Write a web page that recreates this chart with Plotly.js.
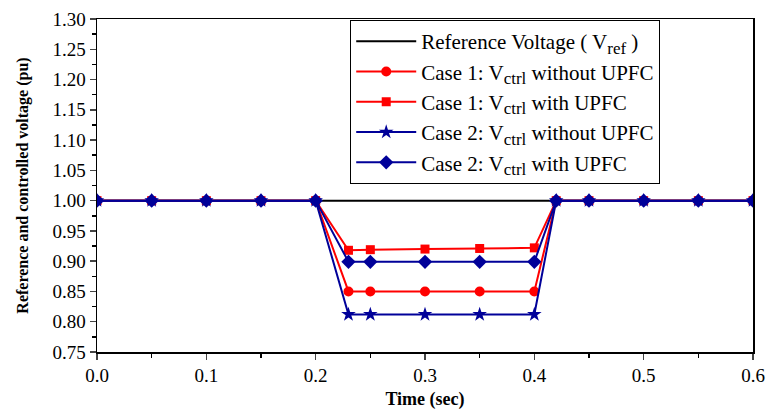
<!DOCTYPE html>
<html><head><meta charset="utf-8">
<script src="https://cdn.plot.ly/plotly-3.0.1.min.js"></script>
<style>body{margin:0;background:#fff}#c{width:766px;height:410px}</style>
</head><body><div id="c"></div>
<script>
var timeRef = [0, 0.6];
var vRef = [1.0, 1.0];
var timePts = [0, 0.05, 0.1, 0.15, 0.2, 0.23, 0.25, 0.3, 0.35, 0.4, 0.42, 0.45, 0.5, 0.55, 0.6];
var case1Without = [1.0, 1.0, 1.0, 1.0, 1.0, 0.85, 0.85, 0.85, 0.85, 0.85, 1.0, 1.0, 1.0, 1.0, 1.0];
var case1With = [1.0, 1.0, 1.0, 1.0, 1.0, 0.918, 0.919, 0.920, 0.921, 0.922, 1.0, 1.0, 1.0, 1.0, 1.0];
var case2Without = [1.0, 1.0, 1.0, 1.0, 1.0, 0.812, 0.812, 0.812, 0.812, 0.812, 1.0, 1.0, 1.0, 1.0, 1.0];
var case2With = [1.0, 1.0, 1.0, 1.0, 1.0, 0.899, 0.899, 0.899, 0.899, 0.899, 1.0, 1.0, 1.0, 1.0, 1.0];
function sub(s) { return '<span style="font-size:17px">' + s + '</span>'; }
var names = ['Reference Voltage ( V<sub>' + sub('ref') + '</sub> )',
  'Case 1: V<sub>' + sub('ctrl') + '</sub> without UPFC',
  'Case 1: V<sub>' + sub('ctrl') + '</sub> with UPFC',
  'Case 2: V<sub>' + sub('ctrl') + '</sub> without UPFC',
  'Case 2: V<sub>' + sub('ctrl') + '</sub> with UPFC'];
var red = '#ff0000', blue = '#000099';
var traces = [
  {x: timeRef, y: vRef, name: names[0], mode: 'lines', line: {color: '#000', width: 2}},
  {x: timePts, y: case1Without, name: names[1], mode: 'lines+markers', line: {color: red, width: 2}, marker: {symbol: 'circle', size: 10, color: red}},
  {x: timePts, y: case1With, name: names[2], mode: 'lines+markers', line: {color: red, width: 2}, marker: {symbol: 'square', size: 9, color: red}},
  {x: timePts, y: case2Without, name: names[3], mode: 'lines+markers', line: {color: blue, width: 2}, marker: {symbol: 'star', size: 11, color: blue}},
  {x: timePts, y: case2With, name: names[4], mode: 'lines+markers', line: {color: blue, width: 2}, marker: {symbol: 'diamond', size: 11, color: blue}}
];
var serif = 'Liberation Serif';
var layout = {
  width: 766, height: 410,
  margin: {l: 97, r: 13, t: 19, b: 58},
  paper_bgcolor: '#fff', plot_bgcolor: '#fff',
  font: {family: serif, size: 19, color: '#000'},
  showlegend: true,
  legend: {x: 0.386, y: 0.997, xanchor: 'left', yanchor: 'top', bordercolor: '#000', borderwidth: 1,
    bgcolor: '#fff', font: {family: serif, size: 21}, tracegroupgap: 0, itemwidth: 60},
  xaxis: {range: [0, 0.6], dtick: 0.1, tickformat: '.1f', ticks: 'outside', ticklen: 6, tickwidth: 1.5,
    showline: true, linecolor: '#000', linewidth: 1.5, mirror: true, showgrid: false, zeroline: false,
    minor: {dtick: 0.05, ticks: 'outside', ticklen: 4, tickcolor: '#000'},
    tickfont: {family: serif, size: 19},
    title: {text: '<b>Time (sec)</b>', font: {family: serif, size: 18}, standoff: 10}},
  yaxis: {range: [0.75, 1.30], dtick: 0.05, tickformat: '.2f', ticks: 'outside', ticklen: 6, tickwidth: 1.5,
    showline: true, linecolor: '#000', linewidth: 1.5, mirror: true, showgrid: false, zeroline: false,
    minor: {dtick: 0.025, ticks: 'outside', ticklen: 4, tickcolor: '#000'},
    tickfont: {family: serif, size: 19},
    title: {text: '<b>Reference and controlled voltage (pu)</b>', font: {family: serif, size: 16}, standoff: 20}}
};
Plotly.newPlot('c', traces, layout, {displayModeBar: false, staticPlot: true});
</script></body></html>
